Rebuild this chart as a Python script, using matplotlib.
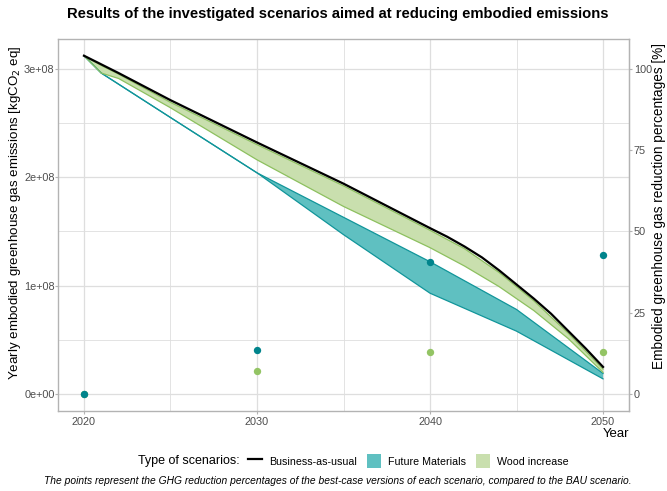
import matplotlib.pyplot as plt
from matplotlib.lines import Line2D
from matplotlib.patches import Patch

plt.rcParams.update({
    'font.family': ['Liberation Sans', 'DejaVu Sans'],
    'font.size': 9,
})

# Business-as-usual curve [kgCO2 eq]
bau_years = [2020, 2022, 2025, 2030, 2035, 2040, 2041, 2042, 2043, 2044, 2045,
             2046, 2047, 2048, 2049, 2050]
bau = [3.12e8, 2.96e8, 2.71e8, 2.32e8, 1.94e8, 1.53e8, 1.45e8, 1.36e8, 1.26e8, 1.14e8, 1.01e8,
       0.88e8, 0.74e8, 0.58e8, 0.42e8, 0.25e8]

# Wood increase band
wood_years = [2020, 2021, 2022, 2025, 2030, 2035, 2040, 2042, 2044, 2045, 2046, 2048, 2050]
wood_hi = [3.12e8, 3.03e8, 2.95e8, 2.69e8, 2.30e8, 1.92e8, 1.51e8, 1.34e8, 1.12e8, 0.99e8,
           0.86e8, 0.56e8, 0.23e8]
wood_lo = [3.12e8, 2.96e8, 2.91e8, 2.64e8, 2.16e8, 1.73e8, 1.35e8, 1.18e8, 0.99e8, 0.88e8,
           0.77e8, 0.51e8, 0.20e8]

# Future materials band
fm_years = [2020, 2021, 2025, 2030, 2035, 2040, 2045, 2050]
fm_hi = [3.12e8, 2.96e8, 2.55e8, 2.04e8, 1.63e8, 1.22e8, 0.78e8, 0.19e8]
fm_lo = [3.12e8, 2.96e8, 2.55e8, 2.04e8, 1.47e8, 0.93e8, 0.58e8, 0.14e8]

# reduction percentages of best-case versions
pt_years = [2020, 2030, 2040, 2050]
fm_pct = [0, 13.4, 40.5, 42.6]
wood_pct = [0, 7.0, 12.8, 12.8]

scale = 3e6  # 1 % on right axis

teal_fill = '#5FC0C1'
teal_edge = '#11959A'
teal_pt = '#00848C'
green_fill = '#C9DFAE'
green_edge = '#8DC05F'
green_pt = '#93C464'
grid_c = '#DEDEDE'
border_c = '#B3B3B3'
tick_c = '#4D4D4D'

fig = plt.figure(figsize=(6.67, 4.91), dpi=100)
ax = fig.add_axes([0.087, 0.163, 0.856, 0.758])

ax.fill_between(fm_years, fm_lo, fm_hi, facecolor=teal_fill, edgecolor='none', zorder=2)
ax.plot(fm_years, fm_hi, color=teal_edge, lw=0.9, zorder=3)
ax.plot(fm_years, fm_lo, color=teal_edge, lw=0.9, zorder=3)
ax.fill_between(wood_years, wood_lo, wood_hi, facecolor=green_fill, edgecolor='none', zorder=2)
ax.plot(wood_years, wood_hi, color=green_edge, lw=0.9, zorder=3)
ax.plot(wood_years, wood_lo, color=green_edge, lw=0.9, zorder=3)
ax.plot(bau_years, bau, color='black', lw=1.6, zorder=4)

ax.scatter(pt_years, [p * scale for p in wood_pct], s=28, color=green_pt, zorder=5, linewidths=0)
ax.scatter(pt_years, [p * scale for p in fm_pct], s=28, color=teal_pt, zorder=5, linewidths=0)

ax.set_xlim(2018.5, 2051.5)
ax.set_ylim(-1.56e7, 3.276e8)
ax.set_xticks([2020, 2030, 2040, 2050])
ax.set_xticks([2025, 2035, 2045], minor=True)
ax.set_yticks([0, 1e8, 2e8, 3e8])
ax.set_yticklabels(['0e+00', '1e+08', '2e+08', '3e+08'])
ax.set_yticks([0.5e8, 1.5e8, 2.5e8], minor=True)
ax.grid(True, which='major', color=grid_c, lw=0.9, zorder=0)
ax.grid(True, which='minor', color=grid_c, lw=0.6, zorder=0)
ax.set_axisbelow(True)
for s in ax.spines.values():
    s.set_color(border_c)
    s.set_linewidth(1.0)
ax.tick_params(which='major', colors=border_c, labelcolor=tick_c, labelsize=7.8,
               length=2, width=0.8, pad=0.5)
ax.tick_params(axis='x', pad=2)
ax.tick_params(which='minor', length=0)

sec = ax.secondary_yaxis('right', functions=(lambda y: y / scale, lambda p: p * scale))
sec.set_yticks([0, 25, 50, 75, 100])
sec.spines['right'].set_color(border_c)
sec.tick_params(colors=border_c, labelcolor=tick_c, labelsize=7.8, length=2, width=0.8, pad=1.5)

fig.text(15 / 667, 1 - 213 / 491, 'Yearly embodied greenhouse gas emissions [kgCO$_2$ eq]',
         rotation=90, ha='center', va='center', fontsize=9.6)
fig.text(659 / 667, 1 - 206 / 491, 'Embodied greenhouse gas reduction percentages [%]',
         rotation=90, ha='center', va='center', fontsize=9.8)
ax.set_xlabel('Year', fontsize=9.5, loc='right', labelpad=1)

fig.suptitle('Results of the investigated scenarios aimed at reducing embodied emissions',
             fontsize=10.6, fontweight='bold', x=0.507, y=0.985)

handles = [Line2D([], [], color='black', lw=1.6),
           Patch(facecolor=teal_fill, edgecolor='none'),
           Patch(facecolor=green_fill, edgecolor='none')]
labels = ['Business-as-usual', 'Future Materials', 'Wood increase']
fig.text(0.359, 0.061, 'Type of scenarios:', ha='right', va='center', fontsize=9)
fig.legend(handles, labels, loc='center left', bbox_to_anchor=(0.366, 0.061), ncol=3,
           frameon=False, fontsize=7.7, handlelength=1.3, handleheight=1.6,
           handletextpad=0.6, columnspacing=1.0, borderaxespad=0)

fig.text(0.506, 0.01, 'The points represent the GHG reduction percentages of the best-case versions '
         'of each scenario, compared to the BAU scenario.', ha='center', va='bottom',
         fontsize=7.4, style='italic')

fig.savefig('out.png', dpi=100)
